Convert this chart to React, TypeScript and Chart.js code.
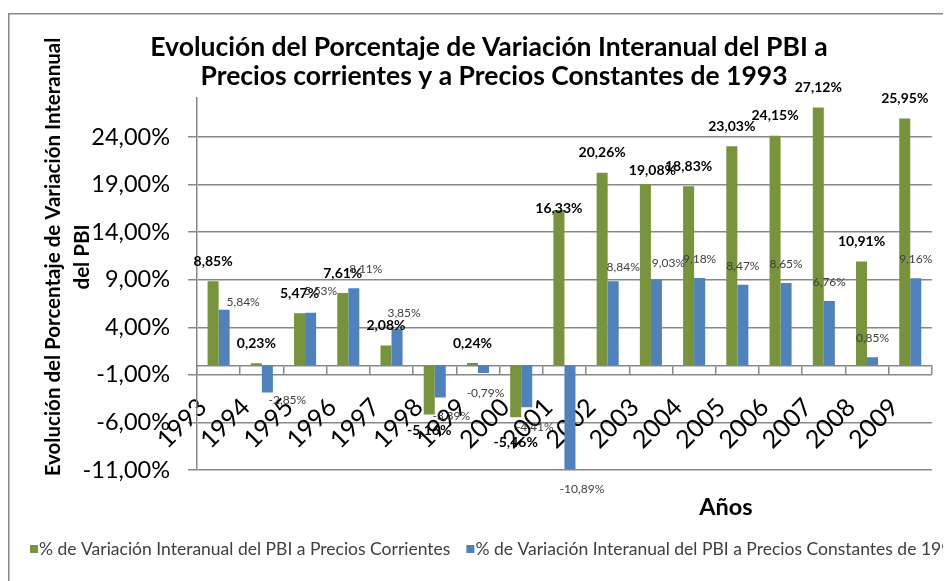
import React, { useEffect, useRef } from "react";
import { Chart, registerables } from "chart.js";

Chart.register(...registerables);

const CATEGORIES = ["1993", "1994", "1995", "1996", "1997", "1998", "1999", "2000", "2001", "2002", "2003", "2004", "2005", "2006", "2007", "2008", "2009"];
const CORRIENTES = [8.85, 0.23, 5.47, 7.61, 2.08, -5.16, 0.24, -5.46, 16.33, 20.26, 19.08, 18.83, 23.03, 24.15, 27.12, 10.91, 25.95];
const CONSTANTES = [5.84, -2.85, 5.53, 8.11, 3.85, -3.39, -0.79, -4.41, -10.89, 8.84, 9.03, 9.18, 8.47, 8.65, 6.76, 0.85, 9.16];
const Y_TICKS = [-11, -6, -1, 4, 9, 14, 19, 24];
const SERIES_NAMES = [
  "% de Variación Interanual del PBI a Precios Corrientes",
  "% de Variación Interanual del PBI a Precios Constantes de 1993",
];
const TITLE_LINES = [
  "Evolución del Porcentaje de Variación Interanual del PBI a",
  "Precios corrientes y a Precios Constantes de 1993",
];
const Y_TITLE_LINES = ["Evolución del Porcentaje de Variación Interanual", "del PBI"];
const X_TITLE = "Años";

// manual label nudges (style), keyed "dataset-index": [dx, dy]
const LABEL_NUDGE: Record<string, [number, number]> = {
  "0-8": [0, 18],
  "0-10": [7, 7],
  "0-7": [0, 7],
  "0-5": [0, -2],
  "1-0": [19, 11],
  "1-1": [20, -12],
  "1-2": [10, -3],
  "1-3": [12, 0],
  "1-4": [7, 3],
  "1-5": [11, -1],
  "1-6": [2, 0],
  "1-7": [8, 0],
  "1-8": [12, 0],
  "1-9": [10, 5],
  "1-10": [12, 3],
};

const GREEN = "#77933C";
const BLUE = "#4F81BD";
const GRID = "#888888";
const FONT = "Lato, 'Open Sans', sans-serif";

const fmt = (v: number) => v.toFixed(2).replace(".", ",") + "%";

const overlay = {
  id: "overlay",
  afterDatasetsDraw(chart: any) {
    const ctx = chart.ctx;
    ctx.save();
    ctx.textAlign = "center";
    ctx.textBaseline = "middle";
    chart.data.datasets.forEach((ds: any, di: number) => {
      const meta = chart.getDatasetMeta(di);
      meta.data.forEach((el: any, i: number) => {
        const v = ds.data[i];
        const nudge = LABEL_NUDGE[`${di}-${i}`] || [0, 0];
        let y: number;
        if (di === 0) {
          ctx.font = `bold 14px ${FONT}`;
          ctx.fillStyle = "#000000";
          y = v >= 0 ? el.y - 20 : el.y + 18;
        } else {
          ctx.font = `12px ${FONT}`;
          ctx.fillStyle = "#404040";
          y = v >= 0 ? el.y - 19 : el.y + 20;
        }
        ctx.fillText(fmt(v), el.x + nudge[0], y + nudge[1]);
      });
    });
    ctx.restore();
  },
  afterDraw(chart: any) {
    const ctx = chart.ctx;
    const W = chart.width;
    const H = chart.height;
    ctx.save();
    // frame
    ctx.strokeStyle = GRID;
    ctx.lineWidth = 1.5;
    ctx.strokeRect(0.75, 5.75, W + 20, H + 20);
    // title
    ctx.fillStyle = "#000000";
    ctx.textAlign = "center";
    ctx.textBaseline = "middle";
    ctx.font = `bold 26.5px ${FONT}`;
    ctx.fillText(TITLE_LINES[0], 481, 39);
    ctx.fillText(TITLE_LINES[1], 486, 68);
    // y title
    ctx.save();
    ctx.translate(45, 249);
    ctx.rotate(-Math.PI / 2);
    ctx.font = `bold 20.5px ${FONT}`;
    ctx.fillText(Y_TITLE_LINES[0], 0, 0);
    ctx.fillText(Y_TITLE_LINES[1], 0, 29);
    ctx.restore();
    // x title
    ctx.font = `bold 23.5px ${FONT}`;
    ctx.fillText(X_TITLE, 718, 499);
    // legend
    ctx.font = `17.5px ${FONT}`;
    ctx.textAlign = "left";
    let x = 22;
    const ly = 541;
    [GREEN, BLUE].forEach((c, i) => {
      ctx.fillStyle = c;
      ctx.fillRect(x, ly - 4, 8, 8);
      ctx.fillStyle = "#404040";
      ctx.fillText(SERIES_NAMES[i], x + 9, ly);
      x += 9 + ctx.measureText(SERIES_NAMES[i]).width + 16;
    });
    ctx.restore();
  },
};

export default function App() {
  const ref = useRef<HTMLCanvasElement | null>(null);
  useEffect(() => {
    if (!ref.current) return;
    const chart = new Chart(ref.current, {
      type: "bar",
      data: {
        labels: CATEGORIES,
        datasets: [
          { label: SERIES_NAMES[0], data: CORRIENTES, backgroundColor: GREEN },
          { label: SERIES_NAMES[1], data: CONSTANTES, backgroundColor: BLUE },
        ],
      },
      options: {
        animation: false,
        responsive: false,
        maintainAspectRatio: false,
        events: [],
        layout: { padding: { top: 90, bottom: 111, left: 0, right: 18 } },
        datasets: { bar: { categoryPercentage: 0.51, barPercentage: 1.0 } },
        plugins: {
          legend: { display: false },
          title: { display: false },
          tooltip: { enabled: false },
        },
        scales: {
          x: {
            position: { y: 0 } as any,
            z: 1,
            grid: {
              display: true,
              drawOnChartArea: false,
              drawTicks: true,
              tickLength: 8,
              color: GRID,
              lineWidth: 1.5,
              offset: true,
            },
            border: { display: true, color: GRID, width: 1.5 },
            ticks: {
              autoSkip: false,
              minRotation: 45,
              maxRotation: 45,
              color: "#000000",
              font: { family: FONT, size: 25 },
              padding: 19,
              labelOffset: -16,
            },
          },
          y: {
            min: -11,
            max: 28.11,
            afterBuildTicks: (axis: any) => {
              axis.ticks = Y_TICKS.map((v) => ({ value: v }));
            },
            afterFit: (axis: any) => {
              axis.width = 189;
            },
            grid: { color: GRID, lineWidth: 1.5, tickLength: 9, drawTicks: true },
            border: { display: true, color: GRID, width: 1.5 },
            ticks: {
              color: "#000000",
              font: { family: FONT, size: 23.5 },
              padding: 18,
              callback: (v: any) => fmt(Number(v)),
            },
          },
        },
      },
      plugins: [overlay],
    });
    return () => chart.destroy();
  }, []);
  return (
    <div style={{ width: 943, height: 573 }}>
      <canvas ref={ref} width={943} height={573} style={{ display: "block" }} />
    </div>
  );
}
